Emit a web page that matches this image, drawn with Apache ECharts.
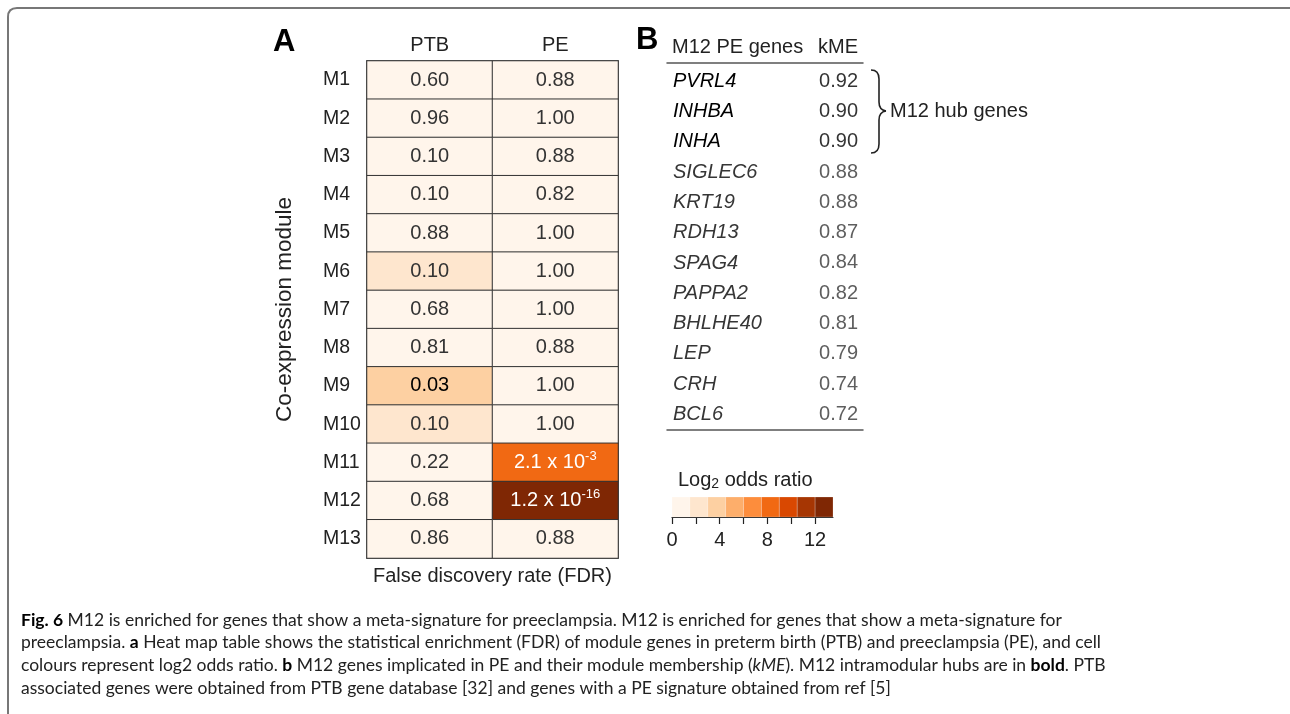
<!DOCTYPE html>
<html><head><meta charset="utf-8">
<script src="https://cdn.jsdelivr.net/npm/echarts@6/dist/echarts.min.js"></script>
<style>html,body{margin:0;padding:0;background:#fff}#c{width:1290px;height:714px}</style>
</head><body><div id="c"></div>
<script>
// ---------- data ----------
const modules = ['M1','M2','M3','M4','M5','M6','M7','M8','M9','M10','M11','M12','M13'];
const groups = ['PTB','PE'];
const fdrPTB = ['0.60','0.96','0.10','0.10','0.88','0.10','0.68','0.81','0.03','0.10','0.22','0.68','0.86'];
const fdrPE  = ['0.88','1.00','0.88','0.82','1.00','1.00','1.00','0.88','1.00','1.00','2.1 x 10^-3','1.2 x 10^-16','0.88'];
const log2orPTB = [0.4,0.1,0.9,0.8,0.3,2.1,0.5,0.4,3.6,2.3,0.9,0.5,0.3];
const log2orPE  = [0.3,0.0,0.4,0.6,0.0,0.0,0.0,0.3,0.0,0.0,8.2,12.8,0.3];
const legendBins = [0,1.5,3,4.5,6,7.5,9,10.5,12,13.5];
const legendTicks = [0,2,4,6,8,10,12];
const legendLabels = [0,4,8,12];
const tableHeaders = ['M12 PE genes','kME'];
const genes = ['PVRL4','INHBA','INHA','SIGLEC6','KRT19','RDH13','SPAG4','PAPPA2','BHLHE40','LEP','CRH','BCL6'];
const kME = [0.92,0.90,0.90,0.88,0.88,0.87,0.84,0.82,0.81,0.79,0.74,0.72];
const hubGenes = ['PVRL4','INHBA','INHA'];
const captionLines = [
  '{b|Fig. 6} M12 is enriched for genes that show a meta-signature for preeclampsia. M12 is enriched for genes that show a meta-signature for',
  'preeclampsia. {b|a} Heat map table shows the statistical enrichment (FDR) of module genes in preterm birth (PTB) and preeclampsia (PE), and cell',
  'colours represent log2 odds ratio. {b|b} M12 genes implicated in PE and their module membership ({i|kME}). M12 intramodular hubs are in {b|bold}. PTB',
  'associated genes were obtained from PTB gene database [32] and genes with a PE signature obtained from ref [5]'
];
const oranges = ['#fff5eb','#fee6ce','#fdd0a2','#fdae6b','#fd8d3c','#f16913','#d94801','#a63603','#7f2704'];

// ---------- helpers ----------
const FF = '"Liberation Sans", Arial, Helvetica, sans-serif';
const CAP_FF = 'Lato, "Open Sans", sans-serif';
const FS = 20;
function fmtFdr(s){
  const m = s.match(/^(.*)\^(.*)$/);
  return m ? m[1] + '{sup|' + m[2] + '}' : s;
}
function measure(text, size, weight, family){
  const c = document.createElement('canvas').getContext('2d');
  c.font = weight + ' ' + size + 'px ' + family;
  return c.measureText(text).width;
}
const l1Bold = 'Fig. 6';
const l1Rest = captionLines[0].replace('{b|Fig. 6}','');
const w100 = measure(l1Bold, 100, 'bold', CAP_FF) + measure(l1Rest, 100, 'normal', CAP_FF);
const capSize = Math.min(18, 100 * 1041 / w100);

const heatData = [];
modules.forEach((m, i) => {
  [[fdrPTB, log2orPTB], [fdrPE, log2orPE]].forEach(([f, o], j) => {
    const dark = o[i] > 7;
    heatData.push({
      value: [j, i, o[i], f[i]],
      label: { color: dark ? '#ffffff' : (f[i] === '0.03' ? '#000' : '#333'),
               rich: { sup: { fontSize: 13, color: dark ? '#ffffff' : '#333', verticalAlign: 'bottom', padding: [0,0,12,0], fontFamily: FF } } }
    });
  });
});

const pieces = legendBins.slice(0, -1).map((b, k) => ({ gte: b, lt: legendBins[k+1], color: oranges[k] }));
pieces[pieces.length-1].lte = legendBins[legendBins.length-1]; delete pieces[pieces.length-1].lt;

function line(x1,y1,x2,y2,stroke,w){ return { type:'line', shape:{x1,y1,x2,y2}, style:{stroke, lineWidth:w} }; }
function quad(x1,y1,cx,cy,x2,y2,stroke,w){ return { type:'bezierCurve', shape:{x1,y1,cpx1:cx,cpy1:cy,x2,y2}, style:{stroke, lineWidth:w, fill:null} }; }

const braceParts = [
  quad(871,70,879,70,879,79,'#222',1.6),
  line(879,79,879,102,'#222',1.6),
  quad(879,102,879,110,886,111,'#222',1.6),
  quad(886,111,879,112,879,120,'#222',1.6),
  line(879,120,879,144,'#222',1.6),
  quad(879,144,879,153,871,153,'#222',1.6)
];
const frameParts = [
  line(8,714,8,17,'#777',2),
  quad(8,17,8,8,17,8,'#777',2),
  line(17,8,1292,8,'#777',2)
];

const chart = echarts.init(document.getElementById('c'), null, { renderer: 'canvas' });
const option = {
  backgroundColor: '#ffffff',
  animation: false,
  textStyle: { fontFamily: FF },
  grid: [
    { left: 367, top: 61, width: 251, height: 497, show: true, borderColor: '#666', borderWidth: 2 },
    { left: 672, top: 497, width: 161, height: 20 },
    { left: 667, top: 66, width: 196, height: 363.6 }
  ],
  xAxis: [
    { type: 'category', data: groups, gridIndex: 0, position: 'top',
      axisLine: { show: false }, axisTick: { show: false },
      axisLabel: { fontSize: FS, color: '#222', margin: 6 }, splitLine: { show: false } },
    { type: 'value', gridIndex: 1, min: 0, max: 13.5, position: 'bottom',
      axisLine: { show: true, lineStyle: { color: '#222', width: 1 } },
      axisTick: { show: true, customValues: legendTicks, length: 7, lineStyle: { color: '#222', width: 1.2 } },
      axisLabel: { customValues: legendLabels, fontSize: FS, color: '#222', margin: 13 },
      splitLine: { show: false } },
    { type: 'value', gridIndex: 2, min: 0, max: 1, position: 'bottom',
      axisLine: { show: true, onZero: false, lineStyle: { color: '#555', width: 1.5 } },
      axisTick: { show: false }, axisLabel: { show: false }, splitLine: { show: false } },
    { type: 'value', gridIndex: 2, min: 0, max: 1, position: 'top', offset: 3,
      axisLine: { show: true, onZero: false, lineStyle: { color: '#555', width: 1.5 } },
      axisTick: { show: false }, axisLabel: { show: false }, splitLine: { show: false } },
    { type: 'category', data: groups, gridIndex: 0, position: 'bottom',
      axisLine: { show: false }, axisTick: { show: false }, axisLabel: { show: false },
      name: 'False discovery rate (FDR)', nameLocation: 'middle', nameGap: 8,
      nameTextStyle: { fontSize: FS, color: '#222', verticalAlign: 'top' } }
  ],
  yAxis: [
    { type: 'category', data: modules, gridIndex: 0, inverse: true,
      axisLine: { show: false }, axisTick: { show: false },
      axisLabel: { fontSize: 19.5, color: '#222', align: 'left', margin: 44 },
      name: 'Co-expression module', nameLocation: 'middle', nameRotate: 90, nameGap: 71,
      nameTextStyle: { fontSize: 22.5, color: '#222' } },
    { type: 'value', gridIndex: 1, min: 0, max: 1, show: false },
    { type: 'category', data: genes, gridIndex: 2, inverse: true,
      axisLine: { show: false }, axisTick: { show: false },
      axisLabel: { inside: true, margin: 6, fontSize: FS, fontStyle: 'italic',
        formatter: v => hubGenes.includes(v) ? '{h|' + v + '}' : '{n|' + v + '}',
        rich: { h: { fontSize: FS, fontStyle: 'italic', color: '#000', fontFamily: FF },
                n: { fontSize: FS, fontStyle: 'italic', color: '#363636', fontFamily: FF } } } }
  ],
  visualMap: { type: 'piecewise', show: false, seriesIndex: 0, dimension: 2, pieces: pieces },
  series: [
    { type: 'heatmap', xAxisIndex: 0, yAxisIndex: 0, data: heatData,
      itemStyle: { borderColor: '#333', borderWidth: 1 },
      label: { show: true, fontSize: FS, fontFamily: FF, formatter: p => fmtFdr(p.data.value[3]) },
      emphasis: { disabled: true } },
    { type: 'custom', xAxisIndex: 1, yAxisIndex: 1,
      data: legendBins.slice(0, -1).map((b, k) => [b, legendBins[k+1], k]),
      renderItem: (params, api) => {
        const s = api.coord([api.value(0), 1]);
        const e = api.coord([api.value(1), 0]);
        return { type: 'rect', shape: { x: s[0], y: s[1], width: e[0] - s[0], height: e[1] - s[1] },
                 style: { fill: oranges[api.value(2)], stroke: 'rgba(255,255,255,0.35)', lineWidth: 0.6 } };
      } },
    { type: 'scatter', xAxisIndex: 2, yAxisIndex: 2, symbolSize: 0,
      data: genes.map((g, i) => ({ value: [1, g, kME[i]],
        label: { color: hubGenes.includes(g) ? '#000' : '#363636' } })),
      label: { show: true, position: 'left', distance: 5, fontSize: FS, fontFamily: FF,
               formatter: p => p.data.value[2].toFixed(2) },
      emphasis: { disabled: true } }
  ],
  graphic: frameParts.concat(braceParts).concat([
    { type: 'text', x: 273, y: 42, style: { text: 'A', fontSize: 31, fontWeight: 'bold', fontFamily: FF, fill: '#000', verticalAlign: 'middle' } },
    { type: 'text', x: 636, y: 40, style: { text: 'B', fontSize: 31, fontWeight: 'bold', fontFamily: FF, fill: '#000', verticalAlign: 'middle' } },
    { type: 'text', x: 672, y: 47, style: { text: tableHeaders[0], fontSize: FS, fontFamily: FF, fill: '#222', verticalAlign: 'middle' } },
    { type: 'text', x: 858, y: 47, style: { text: tableHeaders[1], fontSize: FS, fontFamily: FF, fill: '#222', verticalAlign: 'middle', align: 'right' } },
    { type: 'text', x: 890, y: 111, style: { text: 'M12 hub genes', fontSize: FS, fontFamily: FF, fill: '#222', verticalAlign: 'middle' } },
    { type: 'text', x: 678, y: 480, style: { text: 'Log{sub|2} odds ratio', fontSize: FS, fontFamily: FF, fill: '#222', verticalAlign: 'middle',
        rich: { sub: { fontSize: 14, fontFamily: FF, fill: '#222', verticalAlign: 'top', padding: [9, 0, 0, 0] } } } }
  ]).concat(captionLines.map((t, k) => ({
    type: 'text', x: 21, y: 620 + k * 22.7,
    style: { text: t, fontSize: capSize, fontFamily: CAP_FF, fill: '#222', verticalAlign: 'middle',
      rich: { b: { fontSize: capSize, fontFamily: CAP_FF, fontWeight: 'bold', fill: '#000' },
              i: { fontSize: capSize, fontFamily: CAP_FF, fontStyle: 'italic', fill: '#222' } } }
  })))
};
chart.setOption(option);
</script>
</body></html>
